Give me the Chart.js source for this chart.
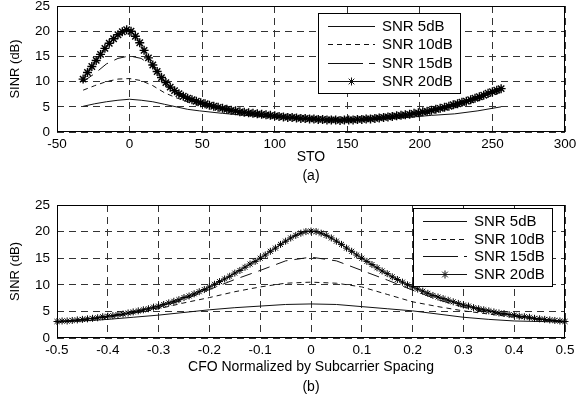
<!DOCTYPE html>
<html><head><meta charset="utf-8">
<script src="https://cdn.jsdelivr.net/npm/chart.js@4/dist/chart.umd.min.js"></script>
<style>
html,body{margin:0;padding:0;background:#fff;width:579px;height:397px;overflow:hidden}
.wrap{position:absolute;left:0;width:579px}
</style></head><body>
<div class="wrap" style="top:0;height:200px"><canvas id="c1"></canvas></div>
<div class="wrap" style="top:200px;height:197px"><canvas id="c2"></canvas></div>
<script>
// ---------- data ----------
const seriesLabels = ['SNR 5dB','SNR 10dB','SNR 15dB','SNR 20dB'];
const stoTickLabels = ['-50','0','50','100','150','200','250','300'];
const cfoTickLabels = ['-0.5','-0.4','-0.3','-0.2','-0.1','0','0.1','0.2','0.3','0.4','0.5'];
const sinrTickLabels = ['0','5','10','15','20','25'];

// (a) STO
const stoX20 = [-32,-29,-26,-23,-20,-17,-14,-11,-8,-5,-2,1,4,7,10,13,16,19,22,25,28,31,34,37,40,43,46,49,52,55,58,61,64,67,70,73,76,79,82,85,88,91,94,97,100,103,106,109,112,115,118,121,124,127,130,133,136,139,142,145,148,151,154,157,160,163,166,169,172,175,178,181,184,187,190,193,196,199,202,205,208,211,214,217,220,223,226,229,232,235,238,241,244,247,250,253,256];
const stoSinr20 = [10.5,11.8,13.0,14.2,15.4,16.6,17.6,18.5,19.3,19.9,20.3,
  20.0,19.0,17.7,16.2,14.7,13.3,12.0,10.8,9.8,8.9,
  8.2,7.6,7.1,6.7,6.4,6.1,5.8,5.6,5.3,5.1,
  4.9,4.7,4.5,4.3,4.2,4.0,3.9,3.8,3.7,3.6,
  3.5,3.4,3.3,3.2,3.1,3.0,2.9,2.9,2.8,2.7,
  2.7,2.6,2.6,2.5,2.5,2.4,2.4,2.4,2.3,2.4,
  2.4,2.4,2.5,2.5,2.6,2.6,2.7,2.8,2.9,3.0,
  3.1,3.2,3.3,3.4,3.5,3.7,3.8,4.0,4.1,4.3,
  4.5,4.7,4.9,5.1,5.4,5.6,5.9,6.1,6.4,6.7,
  7.0,7.3,7.7,8.0,8.3,8.6];
const stoXLine = [-32,-24,-16,-8,0,8,16,24,32,40,48,64,80,96,112,128,144,160,176,192,208,224,240,256];
const stoSinr5  = [5.1,5.6,6.0,6.3,6.5,6.3,6.0,5.5,5.0,4.5,4.2,3.7,3.3,3.0,2.7,2.5,2.3,2.3,2.6,2.9,3.3,3.6,4.2,5.0];
const stoSinr10 = [8.3,9.2,10.0,10.5,10.6,10.2,9.2,7.8,6.8,6.0,5.4,4.4,3.6,3.1,2.7,2.4,2.2,2.3,2.6,3.1,3.8,4.8,6.2,7.9];
const stoSinr15 = [10.0,11.6,13.5,14.6,15.1,14.6,13.0,9.6,7.6,6.4,5.7,4.6,3.7,3.2,2.8,2.5,2.3,2.4,2.8,3.3,4.1,5.1,6.5,8.2];

// (b) CFO
const cfoX20 = [-0.5,-0.49,-0.48,-0.47,-0.46,-0.45,-0.44,-0.43,-0.42,-0.41,-0.4,-0.39,-0.38,-0.37,-0.36,-0.35,-0.34,-0.33,-0.32,-0.31,-0.3,-0.29,-0.28,-0.27,-0.26,-0.25,-0.24,-0.23,-0.22,-0.21,-0.2,-0.19,-0.18,-0.17,-0.16,-0.15,-0.14,-0.13,-0.12,-0.11,-0.1,-0.09,-0.08,-0.07,-0.06,-0.05,-0.04,-0.03,-0.02,-0.01,0,0.01,0.02,0.03,0.04,0.05,0.06,0.07,0.08,0.09,0.1,0.11,0.12,0.13,0.14,0.15,0.16,0.17,0.18,0.19,0.2,0.21,0.22,0.23,0.24,0.25,0.26,0.27,0.28,0.29,0.3,0.31,0.32,0.33,0.34,0.35,0.36,0.37,0.38,0.39,0.4,0.41,0.42,0.43,0.44,0.45,0.46,0.47,0.48,0.49,0.5];
const cfoSinr20 = [3.1,3.2,3.2,3.3,3.4,3.5,3.6,3.7,3.8,4.0,
  4.1,4.2,4.4,4.5,4.7,4.9,5.1,5.3,5.5,5.8,
  6.0,6.3,6.6,6.9,7.2,7.6,7.9,8.3,8.7,9.1,
  9.6,10.1,10.6,11.1,11.6,12.2,12.7,13.3,13.9,14.4,
  15.0,15.6,16.3,16.9,17.6,18.2,18.8,19.3,19.7,20.0,
  20.1,
  20.0,19.7,19.3,18.8,18.2,17.6,16.9,16.3,15.6,15.0,
  14.4,13.8,13.2,12.6,12.1,11.5,11.0,10.5,10.0,9.6,
  9.2,8.8,8.4,8.0,7.7,7.4,7.1,6.8,6.5,6.2,
  6.0,5.7,5.5,5.3,5.1,4.9,4.7,4.6,4.4,4.3,
  4.1,4.0,3.9,3.7,3.6,3.5,3.4,3.3,3.2,3.1];
const cfoXLine = [-0.5,-0.45,-0.4,-0.35,-0.3,-0.25,-0.2,-0.15,-0.1,-0.05,0,0.05,0.1,0.15,0.2,0.25,0.3,0.35,0.4,0.45,0.5];
const cfoSinr5  = [3.0,3.2,3.5,3.9,4.3,4.8,5.3,5.7,6.0,6.3,6.4,6.3,5.9,5.5,5.1,4.5,3.9,3.5,3.2,3.1,3.0];
const cfoSinr10 = [3.0,3.3,3.9,4.6,5.5,6.6,7.6,8.7,9.6,10.3,10.5,10.3,9.6,8.2,6.8,5.9,5.1,4.5,3.9,3.4,3.0];
const cfoSinr15 = [3.0,3.4,4.0,4.7,5.7,7.2,9.1,11.0,12.7,14.5,15.2,14.5,12.7,10.9,9.0,7.2,5.8,4.8,4.1,3.5,3.0];

// ---------- helpers ----------
Chart.defaults.font.family = "'Liberation Sans', Arial, sans-serif";
Chart.defaults.color = '#000';
const INK = '#111';
function pts(xs, ys){ return xs.map((x,i)=>({x:x, y:ys[i]})); }
function datasets(x20, y20, xl, y5, y10, y15, r, bw){
  return [
    {label:seriesLabels[0], data:pts(xl,y5), borderColor:INK, borderWidth:1, pointRadius:0, order:3, legendDash:[]},
    {label:seriesLabels[1], data:pts(xl,y10), borderColor:INK, borderWidth:1, borderDash:[5,4], pointRadius:0, order:2, legendDash:[5,4]},
    {label:seriesLabels[2], data:pts(xl,y15), borderColor:INK, borderWidth:1, borderDash:[12,7], pointRadius:0, order:1, legendDash:[35,6]},
    {label:seriesLabels[3], data:pts(x20,y20), borderColor:INK, borderWidth:1, pointStyle:'star', pointRadius:r,
     pointBorderColor:'#000', pointBorderWidth:bw, pointBackgroundColor:'rgba(0,0,0,0)', order:0, clip:false, legendDash:[], legendStar:true}
  ];
}
function drawStar(ctx, x, y, r){
  ctx.beginPath();
  ctx.moveTo(x-r,y); ctx.lineTo(x+r,y);
  ctx.moveTo(x,y-r); ctx.lineTo(x,y+r);
  const d = r*Math.SQRT1_2;
  ctx.moveTo(x-d,y-d); ctx.lineTo(x+d,y+d);
  ctx.moveTo(x-d,y+d); ctx.lineTo(x+d,y-d);
  ctx.stroke();
}
const framePlugin = {
  id:'frame',
  afterDraw(chart, args, o){
    const ctx = chart.ctx, a = chart.chartArea;
    ctx.save();
    ctx.strokeStyle = '#000'; ctx.lineWidth = 1; ctx.setLineDash([]);
    ctx.strokeRect(Math.round(a.left)+0.5, Math.round(a.top)+0.5, Math.round(a.right-a.left)-1, Math.round(a.bottom-a.top)-1);
    // legend box
    const L = o.legend;
    ctx.fillStyle = '#fff';
    ctx.fillRect(L.x, L.y, L.w, L.h);
    ctx.strokeRect(L.x+0.5, L.y+0.5, L.w, L.h);
    ctx.font = L.fontSize + "px 'Liberation Sans', Arial, sans-serif";
    ctx.fillStyle = '#000'; ctx.textBaseline = 'middle'; ctx.textAlign = 'left';
    chart.data.datasets.forEach((ds, i) => {
      const yy = Math.round(L.y + L.row0 + i*L.rowH) + 0.5;
      ctx.strokeStyle = INK; ctx.lineWidth = 1;
      ctx.setLineDash(ds.legendDash);
      ctx.beginPath(); ctx.moveTo(L.x + L.l1, yy); ctx.lineTo(L.x + L.l2, yy); ctx.stroke();
      ctx.setLineDash([]);
      if (ds.legendStar) drawStar(ctx, L.x + (L.l1+L.l2)/2, yy, 4);
      ctx.fillText(ds.label, L.x + L.tx, yy);
    });
    ctx.restore();
  }
};
function makeChart(id, cfg){
  return new Chart(document.getElementById(id), {
    type:'line',
    data:{ datasets: cfg.datasets },
    options:{
      responsive:true, maintainAspectRatio:false, animation:false,
      layout:{ padding:{ left:0, right:14, top:cfg.top, bottom:0 } },
      plugins:{ legend:{display:false}, tooltip:{enabled:false}, frame:{ legend: cfg.legend } },
      scales:{
        x:{ type:'linear', min:cfg.xMin, max:cfg.xMax,
            ticks:{ stepSize:cfg.xStep, autoSkip:false, maxRotation:0, padding:cfg.xPad,
                    font:{size:13.5}, callback:(v,i)=>cfg.xLabels[i] },
            grid:{ color:'#333', lineWidth:1, drawTicks:false },
            border:{ display:false, dash:[7,5] },
            title:{ display:true, text:cfg.xTitle, font:{size:14, lineHeight:cfg.tLH}, padding:{top:0,bottom:cfg.tPB} },
            afterFit:(s)=>{ s.height = cfg.xH; s.paddingLeft = 0; s.paddingRight = 0; } },
        y:{ min:0, max:25,
            ticks:{ stepSize:5, padding:7, font:{size:13.5}, callback:(v,i)=>sinrTickLabels[i] },
            grid:{ color:'#333', lineWidth:1, drawTicks:false },
            border:{ display:false, dash:[7,5] },
            title:{ display:true, text:'SINR (dB)', font:{size:13}, padding:{top:8,bottom:0} },
            afterFit:(s)=>{ s.width = 57; s.paddingTop = 0; s.paddingBottom = 0; } }
      }
    },
    plugins:[framePlugin]
  });
}
makeChart('c1', {
  datasets: datasets(stoX20, stoSinr20, stoXLine, stoSinr5, stoSinr10, stoSinr15, 4.5, 1.4),
  top:6, xMin:-50, xMax:300, xStep:50, xLabels:stoTickLabels, xPad:4,
  xTitle:['STO','(a)'], tLH:'19px', tPB:14, xH:68,
  legend:{x:318, y:13, w:142, h:80, row0:13, rowH:18.3, l1:10, l2:57, tx:64, fontSize:15}
});
makeChart('c2', {
  datasets: datasets(cfoX20, cfoSinr20, cfoXLine, cfoSinr5, cfoSinr10, cfoSinr15, 3.5, 1),
  top:5, xMin:-0.5, xMax:0.5, xStep:0.1, xLabels:cfoTickLabels, xPad:4,
  xTitle:['CFO Normalized by Subcarrier Spacing','(b)'], tLH:'20px', tPB:0, xH:59,
  legend:{x:413, y:8, w:139, h:78, row0:13, rowH:17.7, l1:10, l2:54, tx:61, fontSize:15}
});
</script>
</body></html>
